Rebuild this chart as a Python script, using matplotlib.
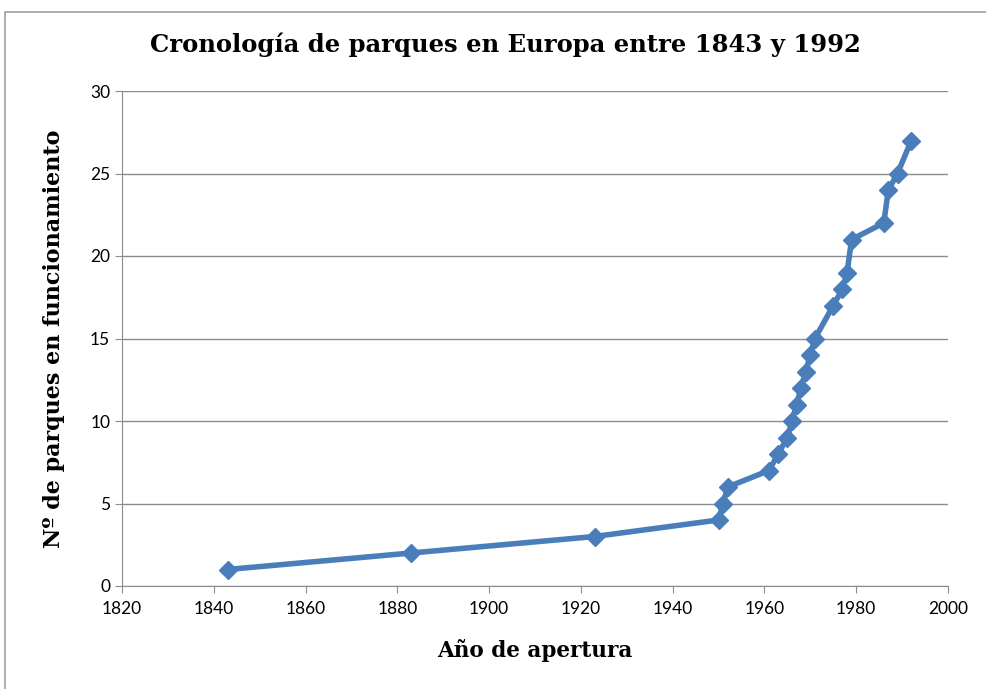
import matplotlib.pyplot as plt
from matplotlib.patches import Rectangle

# años de apertura y número acumulado de parques
anios = [1843, 1883, 1923, 1950, 1951, 1952, 1961, 1963, 1965, 1966, 1967,
         1968, 1969, 1970, 1971, 1975, 1977, 1978, 1979, 1986, 1987, 1989, 1992]
parques = [1, 2, 3, 4, 5, 6, 7, 8, 9, 10, 11,
           12, 13, 14, 15, 17, 18, 19, 21, 22, 24, 25, 27]

fig = plt.figure(figsize=(9.86, 6.89), dpi=100)
ax = fig.add_axes([122 / 986, 1 - 586 / 689, (948 - 122) / 986, (586 - 91) / 689])

# marco exterior del gráfico
fig.patches.append(Rectangle((5 / 986, -0.01), 1.0, 1 - 12 / 689 + 0.01,
                             transform=fig.transFigure, fill=False,
                             edgecolor='#a0a0a0', linewidth=1.2))

ax.plot(anios, parques, color='#4a7ebb', linewidth=4, marker='D',
        markersize=9.5, markerfacecolor='#4a7ebb', markeredgecolor='#4a7ebb')

ax.set_xlim(1820, 2000)
ax.set_ylim(0, 30)
ax.set_xticks(range(1820, 2001, 20))
ax.set_yticks(range(0, 31, 5))
ax.grid(axis='y', color='#8c8c8c', linewidth=1)
ax.set_axisbelow(True)

for s in ['top', 'right']:
    ax.spines[s].set_visible(False)
for s in ['left', 'bottom']:
    ax.spines[s].set_color('#8c8c8c')

ax.tick_params(axis='both', colors='#8c8c8c', length=5, labelcolor='black',
               labelsize=12.5)
ax.tick_params(axis='x', pad=6)
for lbl in ax.get_xticklabels() + ax.get_yticklabels():
    lbl.set_family('Lato')

fig.text(505 / 986, 1 - 45 / 689, 'Cronología de parques en Europa entre 1843 y 1992',
         family='DejaVu Serif', fontweight='bold', fontsize=17.5,
         ha='center', va='center')
ax.set_xlabel('Año de apertura', family='DejaVu Serif', fontweight='bold',
              fontsize=15.5, labelpad=16)
ax.set_ylabel('Nº de parques en funcionamiento', family='DejaVu Serif',
              fontweight='bold', fontsize=16, labelpad=18)

fig.savefig('out.png', dpi=100)
